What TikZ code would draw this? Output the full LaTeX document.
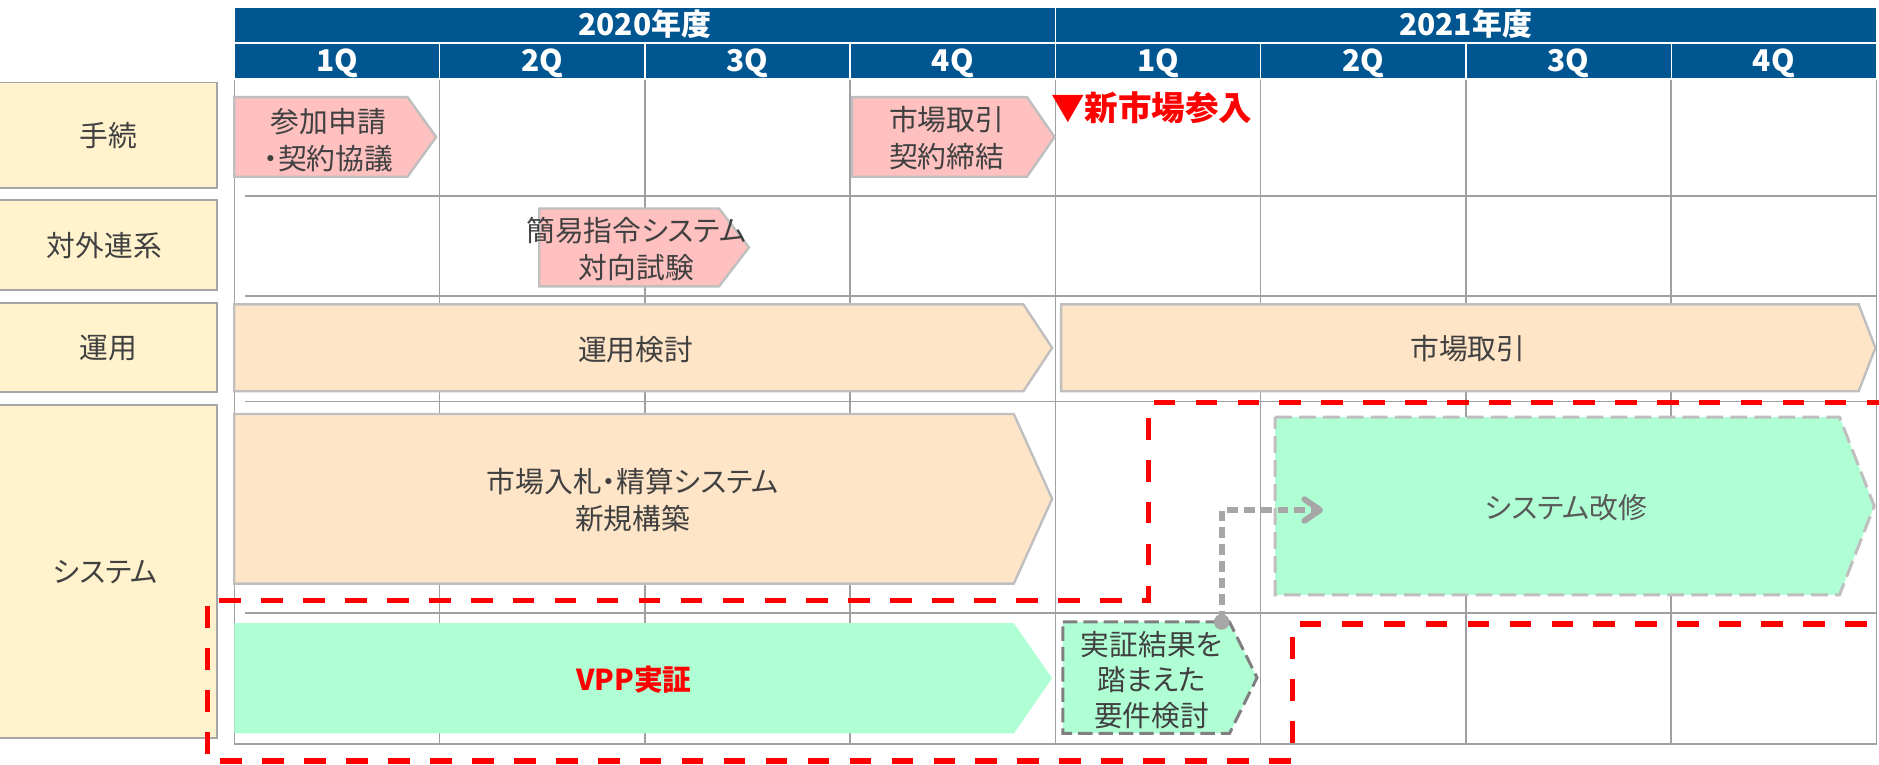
\documentclass[tikz,border=0pt]{standalone}
\usepackage{fontspec}
\setmainfont{Noto Sans CJK JP}[RawFeature=+palt]
\usetikzlibrary{arrows.meta}
\definecolor{hdrblue}{RGB}{0,86,145}
\definecolor{labfill}{RGB}{255,242,204}
\definecolor{labline}{RGB}{166,166,166}
\definecolor{gridgray}{RGB}{160,160,160}
\definecolor{txtgray}{RGB}{64,64,64}
\definecolor{pinkfill}{RGB}{255,192,192}
\definecolor{peachfill}{RGB}{255,229,200}
\definecolor{mintfill}{RGB}{176,255,212}
\definecolor{barline}{RGB}{191,191,191}
\definecolor{darkdash}{RGB}{127,127,127}
\definecolor{zonered}{RGB}{255,0,0}
\definecolor{linkgray}{RGB}{166,166,166}
\definecolor{softtxt}{RGB}{89,89,89}
\newcommand{\chev}[6]{\path[#1] (#2,#3) -- (#4,#3) -- (#5,{(#3+#6)/2}) -- (#4,#6) -- (#2,#6) -- cycle;}
\begin{document}
\begin{tikzpicture}[x=1pt,y=-1pt,
  hdr/.style={fill=hdrblue,draw=white,line width=1.2pt},
  hdrtxt/.style={text=white,font=\fontsize{25}{28}\selectfont\bfseries,inner sep=0pt,anchor=base},
  labbox/.style={fill=labfill,draw=labline,line width=1.2pt},
  txt/.style={text=txtgray,font=\fontsize{24}{31}\selectfont,align=center,inner sep=0pt},
  gridline/.style={draw=gridgray,line width=1.3pt},
  pinkbar/.style={fill=pinkfill,draw=barline,line width=2pt},
  peachbar/.style={fill=peachfill,draw=barline,line width=2pt},
  mintbar/.style={fill=mintfill},
  mintdark/.style={fill=mintfill,draw=darkdash,line width=2.5pt,dash pattern=on 12pt off 5pt},
  mintlight/.style={fill=mintfill,draw=barline,line width=2.5pt,dash pattern=on 14pt off 6pt},
  redzone/.style={draw=zonered,line width=4.5pt,dash pattern=on 18pt off 17pt},
  link/.style={draw=linkgray,line width=5pt,dash pattern=on 9pt off 5pt,-{Straight Barb[length=13pt,width=18pt,round]}}
]
\useasboundingbox (0,0) rectangle (1568,638);
% grid
\foreach \i in {0,...,8} \draw[gridline] ({195.5+171.3*\i},66) -- ({195.5+171.3*\i},621);
\draw[gridline] (195.5,66) -- (1566,66);
\draw[gridline] (195.5,621) -- (1566,621);
\foreach \yy in {163.6,247,335,511.5} \draw[gridline] (204.5,\yy) -- (1566,\yy);
% header
\path[hdr] (195.5,6) rectangle (880.7,36);
\path[hdr] (880.7,6) rectangle (1566,36);
\node[hdrtxt] (y2020) at (538,30) {2020年度};
\node[hdrtxt] (y2021) at (1223,30) {2021年度};
\foreach \i/\q in {0/1Q,1/2Q,2/3Q,3/4Q,4/1Q,5/2Q,6/3Q,7/4Q} {
  \path[hdr] ({195.5+171.3*\i},36) rectangle ++(171.3,30);
  \node[hdrtxt] (q\i) at ({195.5+171.3*\i+85.65},60) {\q};
}
% row labels
\path[labbox] (-1,69) rectangle (181,157);
\path[labbox] (-1,167) rectangle (181,242);
\path[labbox] (-1,253) rectangle (181,327);
\path[labbox] (-1,338) rectangle (181,616);
\node[txt] (l1) at (90.5,113) {手続};
\node[txt] (l2) at (87,204.5) {対外連系};
\node[txt] (l3) at (90.5,290) {運用};
\node[txt] (l4) at (88,477.5) {システム};
% bars
\chev{pinkbar}{195.5}{81}{340}{364}{147.5}
\chev{pinkbar}{711}{81}{857}{880}{147.5}
\chev{pinkbar}{450}{174}{600}{625}{239}
\chev{peachbar}{195.5}{254}{854}{878}{326.5}
\chev{peachbar}{885.5}{254}{1551}{1565}{326.5}
\chev{peachbar}{195.5}{345.5}{846}{878}{487}
\chev{mintbar}{195.5}{520}{846}{878}{612}
\chev{mintdark}{887}{519}{1026}{1049}{612}
\chev{mintlight}{1064}{348}{1535}{1564}{496.5}
% bar texts
\node[txt] (t1) at (274,117) {参加申請\\・契約協議};
\node[txt] (t2) at (790,115) {市場取引\\契約締結};
\node[txt] (t3) at (531,207.5) {簡易指令システム\\対向試験};
\node[txt] (t4) at (530.5,292) {運用検討};
\node[txt] (t5) at (1225,291) {市場取引};
\node[txt] (t6) at (528,417) {市場入札・精算システム\\新規構築};
\node[txt,text=zonered,font=\fontsize{24}{31}\selectfont\bfseries] (t7) at (529,567) {VPP実証};
\node[txt,font=\fontsize{24}{29.5}\selectfont] (t8) at (961,567.5) {実証結果を\\踏まえた\\要件検討};
\node[txt,text=softtxt] (t9) at (1307,424) {システム改修};
\node[anchor=west,text=zonered,font=\fontsize{28}{30}\selectfont\bfseries,inner sep=0pt] (entry) at (877,89.5) {▼新市場参入};
% link
\coordinate (linkstart) at (1019.5,519);
\coordinate (linkend) at (1104,425.6);
\draw[link] (linkstart) |- (linkend);
\fill[linkgray] (linkstart) circle (6.5);
% red zones
\draw[redzone] (183,501.3) -- (958.5,501.3) -- (958.5,336) -- (1570.5,336) -- (1570.5,516);
\draw[redzone] (173,506) -- (173,635) -- (1078.7,635) -- (1078.7,520.7) -- (1570,520.7);
\end{tikzpicture}
\end{document}
